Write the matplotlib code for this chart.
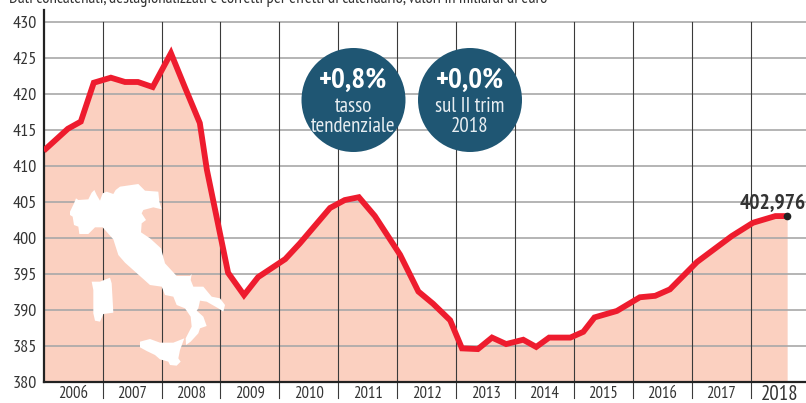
import matplotlib
matplotlib.use('Agg')
import matplotlib.pyplot as plt
from matplotlib.patches import Ellipse, Polygon

W, H = 806, 403

# position of each vertex in years
dates = [2006.00, 2006.41, 2006.63, 2006.85, 2007.14, 2007.38, 2007.60, 2007.85, 2008.16, 2008.40,
         2008.65, 2008.77, 2009.13, 2009.40, 2009.64, 2010.10, 2010.35, 2010.86, 2011.11, 2011.35,
         2011.62, 2012.05, 2012.36, 2012.61, 2012.90, 2013.10, 2013.37, 2013.61, 2013.85, 2014.14,
         2014.36, 2014.58, 2014.94, 2015.16, 2015.35, 2015.73, 2016.12, 2016.38, 2016.63, 2017.09,
         2017.68, 2018.04, 2018.42, 2018.62]
values = [412.05, 415.1, 416.1, 421.5, 422.2, 421.6, 421.6, 420.9, 425.6, 420.8,
          415.9, 409.4, 395.1, 392.0, 394.5, 397.0, 399.2, 404.1, 405.2, 405.6,
          403.0, 397.6, 392.5, 390.8, 388.5, 384.6, 384.5, 386.1, 385.2, 385.8,
          384.8, 386.1, 386.1, 386.9, 388.9, 389.8, 391.7, 391.9, 392.8, 396.6,
          400.2, 402.05, 402.976, 402.976]
years = list(range(2006, 2019))
y_ticks = list(range(380, 431, 5))

# outline of italy, zoomed crop coordinates
mainland = [(210, 125), (222, 100), (228, 85), (235, 90), (265, 88), (275, 68), (283, 60), (290, 75), (300, 92),
            (308, 70), (320, 65), (340, 72), (347, 60), (360, 50), (415, 42), (435, 62), (475, 65), (478, 95),
            (485, 118), (460, 112), (430, 120), (425, 130), (438, 150), (425, 160), (423, 187), (450, 205),
            (483, 235), (495, 280), (530, 318), (570, 318), (575, 312), (572, 330), (580, 350), (610, 350),
            (635, 380), (660, 385), (675, 405), (670, 425), (655, 415), (620, 395), (600, 392), (595, 415),
            (590, 422), (610, 440), (620, 468), (600, 475), (595, 490), (572, 515), (558, 525), (557, 505),
            (575, 470), (572, 440), (555, 415), (530, 405), (520, 380), (495, 375), (485, 350), (450, 345),
            (375, 278), (355, 255), (340, 208), (308, 172), (285, 172), (265, 192), (238, 192), (235, 170),
            (222, 165), (218, 140), (210, 135)]
sardinia = [(275, 335), (300, 335), (330, 323), (335, 340), (340, 428), (310, 432), (300, 455), (285, 452),
            (280, 430), (280, 360)]
sicily = [(420, 515), (450, 507), (480, 518), (520, 518), (553, 505), (540, 540), (535, 565), (542, 575),
          (530, 587), (510, 585), (505, 575), (480, 568), (465, 555), (440, 543), (420, 532)]

plt.rcParams['font.family'] = ['PT Sans Narrow', 'Liberation Sans Narrow', 'Liberation Sans', 'DejaVu Sans']


def fx(x):
    return x / W


def fy(y):
    return 1 - y / H


fig = plt.figure(figsize=(W / 100, H / 100), dpi=100)
ax = fig.add_axes([fx(43.7), fy(381.5), fx(806 - 43.7), 371.5 / H])
ax.set_xlim(2006, 2018.94)
ax.set_ylim(380, 431.6)

ax.fill_between(dates, values, 380, color='#fbd0c0', lw=0, zorder=1)
ax.plot(dates, values, color='#ee1c2e', lw=4.2, solid_joinstyle='miter', solid_capstyle='butt', zorder=4)
ax.plot(dates[-1], values[-1], 'o', color='#222222', ms=4.5, zorder=5)

for v in y_ticks[1:]:
    ax.plot([2006, 2018.94], [v, v], color='#a8a8a8', lw=1.2, zorder=2)
for yr in years[1:]:
    ax.plot([yr, yr], [430, 380], color='#3a3a3a', lw=0.8, zorder=2.5)
    ax.plot([yr, yr], [380, 377.7], color='#3a3a3a', lw=0.8, clip_on=False, zorder=2.5)

for s in ['top', 'right']:
    ax.spines[s].set_visible(False)
ax.spines['left'].set_linewidth(1.6)
ax.spines['bottom'].set_linewidth(1.6)
ax.spines['left'].set_color('#222222')
ax.spines['bottom'].set_color('#222222')
ax.set_xticks([])
ax.set_yticks(y_ticks)
ax.tick_params(axis='y', length=0, pad=5, labelsize=13, labelcolor='#333333')

for yr in years[:-1]:
    ax.text(yr + 0.5, 378.3, str(yr), ha='center', va='center', fontsize=12, color='#333333', clip_on=False)
ax.text(2018.5, 378.15, '2018', ha='center', va='center', fontsize=15, color='#333333', clip_on=False)
ax.text(2018.94, 404.7, '402,976', ha='right', va='center', fontsize=15.5, fontweight='bold', color='#333333', zorder=6)

# map sits on top of the grid
for shape in [mainland, sardinia, sicily]:
    pts = [(fx(x / 3), fy(170 + y / 3)) for x, y in shape]
    fig.add_artist(Polygon(pts, closed=True, transform=fig.transFigure, fc='white', ec='none', zorder=3))

for cx, head, l1, l2 in [(353.5, '+0,8%', 'tasso', 'tendenziale'), (470, '+0,0%', 'sul II trim', '2018')]:
    fig.add_artist(Ellipse((fx(cx), fy(100)), 104 / W, 104 / H, transform=fig.transFigure,
                           fc='#1f5673', ec='none', zorder=3))
    fig.text(fx(cx), fy(81), head, ha='center', va='center', color='white', fontsize=21, fontweight='bold', zorder=4)
    fig.text(fx(cx), fy(106), l1, ha='center', va='center', color='#e8eef2', fontsize=15, zorder=4)
    fig.text(fx(cx), fy(127), l2, ha='center', va='center', color='#e8eef2', fontsize=15, zorder=4)

fig.text(fx(9), fy(3), 'Dati concatenati, destagionalizzati e corretti per effetti di calendario, valori in miliardi di euro',
         ha='left', va='baseline', fontsize=12.1, color='#333333')

fig.savefig('out.png', dpi=100)
